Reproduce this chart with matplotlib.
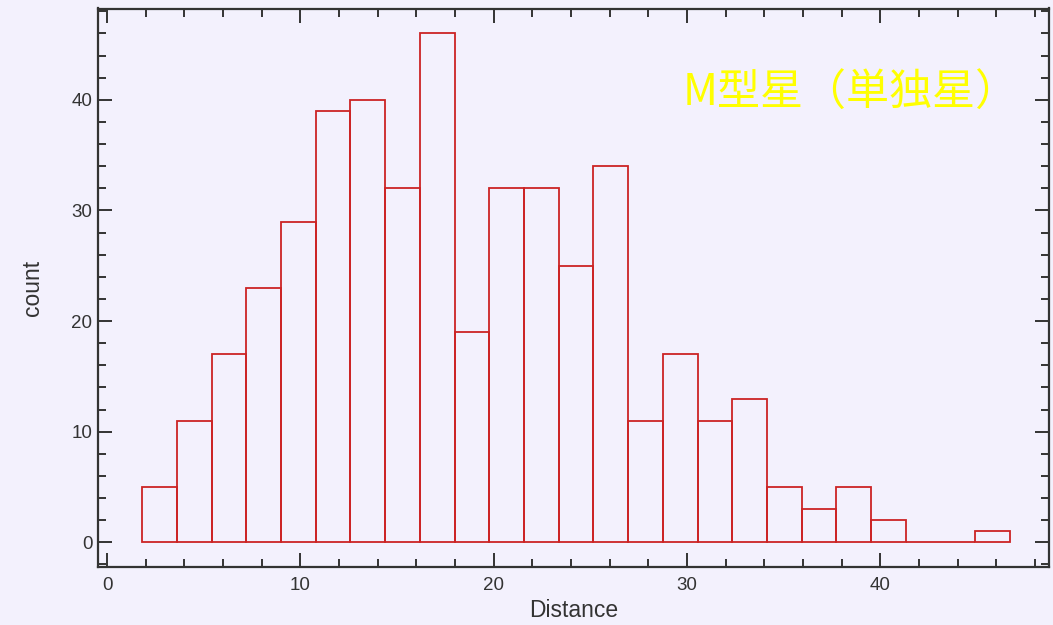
import numpy as np
import matplotlib.pyplot as plt
from matplotlib.ticker import MultipleLocator

# histogram counts (25 bins)
counts = [5, 11, 17, 23, 29, 39, 40, 32, 46, 19, 32, 32, 25,
          34, 11, 17, 11, 13, 5, 3, 5, 2, 0, 0, 1]
bin_lo, bin_hi = 1.81, 46.71
edges = np.linspace(bin_lo, bin_hi, len(counts) + 1)

title = "M型星（単独星）"
bg = "#F3F1FD"
ink = "#333333"

plt.rcParams['font.family'] = ['Liberation Sans', 'DejaVu Sans']

fig = plt.figure(figsize=(10.53, 6.25), dpi=100, facecolor=bg)
ax = fig.add_axes([0.0931, 0.0928, 0.9031, 0.8936], facecolor=bg)

ax.bar(edges[:-1], counts, width=np.diff(edges), align='edge',
       fill=False, edgecolor='#CC2424', linewidth=1.3)

ax.set_xlim(-0.47, 48.73)
ax.set_ylim(-2.23, 48.26)

ax.xaxis.set_major_locator(MultipleLocator(10))
ax.xaxis.set_minor_locator(MultipleLocator(2))
ax.yaxis.set_major_locator(MultipleLocator(10))
ax.yaxis.set_minor_locator(MultipleLocator(2))

ax.tick_params(which='both', direction='in', top=True, right=True,
               color=ink, labelcolor=ink, labelsize=13.5)
ax.tick_params(which='major', length=10, width=1.4)
ax.tick_params(which='minor', length=6, width=1.4)
ax.tick_params(axis='x', which='major', pad=7)
ax.tick_params(axis='y', which='major', pad=4)

for s in ax.spines.values():
    s.set_color(ink)
    s.set_linewidth(1.6)

ax.set_xlabel('Distance', fontsize=16.5, color=ink, labelpad=4)
ax.set_ylabel('count', fontsize=16.5, color=ink, labelpad=20)

ax.text(0.615, 0.848, title, transform=ax.transAxes, ha='left', va='center',
        fontsize=31, color='#FFFF00',
        family=['Noto Sans CJK JP', 'DejaVu Sans'])

fig.savefig('out.png', dpi=100, facecolor=bg)
